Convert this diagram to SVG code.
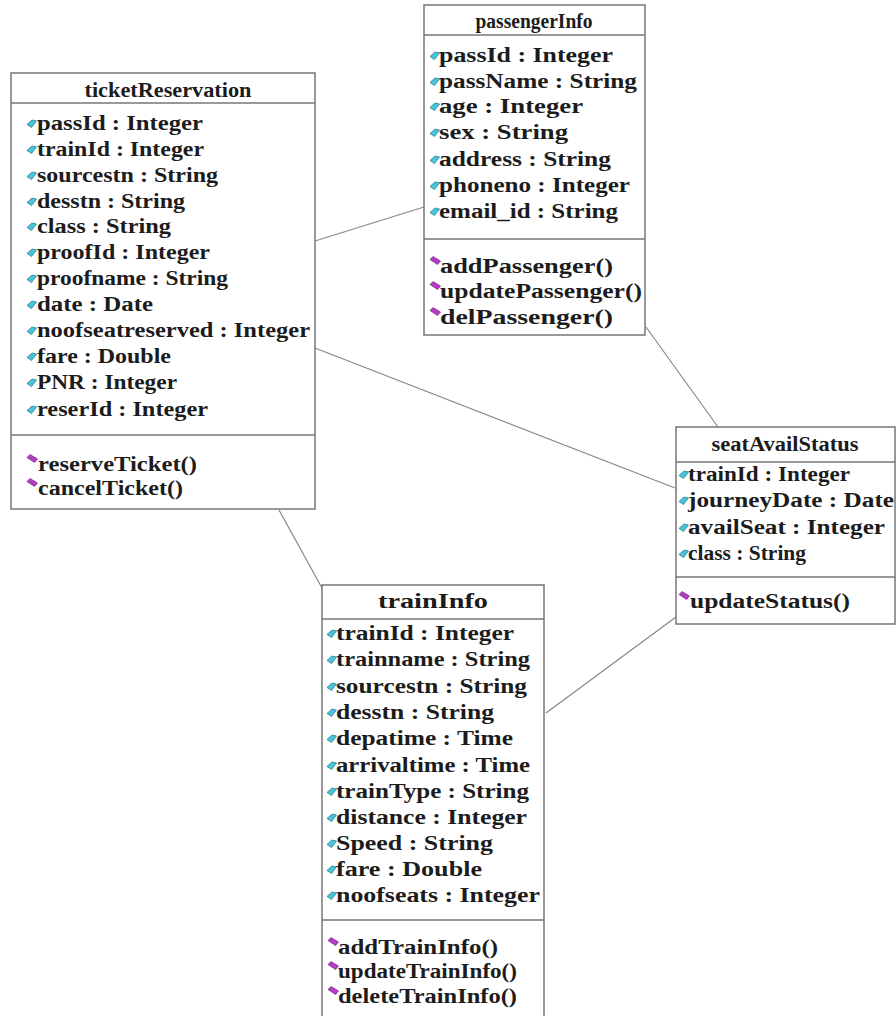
<svg xmlns="http://www.w3.org/2000/svg" xmlns:xlink="http://www.w3.org/1999/xlink" width="896" height="1016" viewBox="0 0 896 1016">
<style>
.box{fill:#fff;stroke:#777;stroke-width:1.5}
.sep{stroke:#777;stroke-width:1.5}
.t{font-family:"Liberation Serif","Times New Roman",serif;font-weight:bold;font-size:20px;fill:#1c1c1c}
.h{text-anchor:middle}
.conn line{stroke:#888;stroke-width:1.2}
</style>
<defs>
<g id="attr"><polygon points="0,4.5 5,0 9.5,1 4.5,7.5" fill="#46c6d8" stroke="#2b7f98" stroke-width="0.8"/></g>
<g id="meth"><polygon points="0,1.5 3,-1.5 10.5,3 7.5,6.5" fill="#b23cc2" stroke="#7a2388" stroke-width="0.7"/></g>
</defs>
<rect width="896" height="1016" fill="#fff"/>
<g class="conn" id="connectors">
<line x1="315" y1="241" x2="424" y2="207"/>
<line x1="315" y1="348" x2="675" y2="488"/>
<line x1="646" y1="327" x2="718" y2="427"/>
<line x1="279" y1="510" x2="322" y2="588"/>
<line x1="546" y1="713" x2="676" y2="617"/>
</g>
<g id="ticketReservation">
<rect class="box" x="11" y="73" width="304" height="436"/>
<line class="sep" x1="11" y1="103" x2="315" y2="103"/>
<line class="sep" x1="11" y1="435" x2="315" y2="435"/>
<text class="t h" x="168" y="97" textLength="167" lengthAdjust="spacingAndGlyphs">ticketReservation</text>
<use href="#attr" x="27" y="120"/><text class="t" x="37" y="130" textLength="166" lengthAdjust="spacingAndGlyphs">passId : Integer</text>
<use href="#attr" x="27" y="146"/><text class="t" x="37" y="156" textLength="167" lengthAdjust="spacingAndGlyphs">trainId : Integer</text>
<use href="#attr" x="27" y="172"/><text class="t" x="37" y="182" textLength="181" lengthAdjust="spacingAndGlyphs">sourcestn : String</text>
<use href="#attr" x="27" y="198"/><text class="t" x="37" y="208" textLength="148" lengthAdjust="spacingAndGlyphs">desstn : String</text>
<use href="#attr" x="27" y="223"/><text class="t" x="37" y="233" textLength="134" lengthAdjust="spacingAndGlyphs">class : String</text>
<use href="#attr" x="27" y="249"/><text class="t" x="37" y="259" textLength="173" lengthAdjust="spacingAndGlyphs">proofId : Integer</text>
<use href="#attr" x="27" y="275"/><text class="t" x="37" y="285" textLength="191" lengthAdjust="spacingAndGlyphs">proofname : String</text>
<use href="#attr" x="27" y="301"/><text class="t" x="37" y="311" textLength="116" lengthAdjust="spacingAndGlyphs">date : Date</text>
<use href="#attr" x="27" y="327"/><text class="t" x="37" y="337" textLength="273" lengthAdjust="spacingAndGlyphs">noofseatreserved : Integer</text>
<use href="#attr" x="27" y="353"/><text class="t" x="37" y="363" textLength="134" lengthAdjust="spacingAndGlyphs">fare : Double</text>
<use href="#attr" x="27" y="379"/><text class="t" x="37" y="389" textLength="140" lengthAdjust="spacingAndGlyphs">PNR : Integer</text>
<use href="#attr" x="27" y="406"/><text class="t" x="37" y="416" textLength="171" lengthAdjust="spacingAndGlyphs">reserId : Integer</text>
<use href="#meth" x="27" y="456"/><text class="t" x="38" y="471" textLength="159" lengthAdjust="spacingAndGlyphs">reserveTicket()</text>
<use href="#meth" x="27" y="480"/><text class="t" x="38" y="495" textLength="145" lengthAdjust="spacingAndGlyphs">cancelTicket()</text>
</g>
<g id="passengerInfo">
<rect class="box" x="424" y="5" width="221" height="330"/>
<line class="sep" x1="424" y1="35" x2="645" y2="35"/>
<line class="sep" x1="424" y1="239" x2="645" y2="239"/>
<text class="t h" x="534" y="28" textLength="117" lengthAdjust="spacingAndGlyphs">passengerInfo</text>
<use href="#attr" x="430" y="52"/><text class="t" x="439" y="62" textLength="174" lengthAdjust="spacingAndGlyphs">passId : Integer</text>
<use href="#attr" x="430" y="78"/><text class="t" x="439" y="88" textLength="198" lengthAdjust="spacingAndGlyphs">passName : String</text>
<use href="#attr" x="430" y="103"/><text class="t" x="439" y="113" textLength="144" lengthAdjust="spacingAndGlyphs">age : Integer</text>
<use href="#attr" x="430" y="129"/><text class="t" x="439" y="139" textLength="129" lengthAdjust="spacingAndGlyphs">sex : String</text>
<use href="#attr" x="430" y="156"/><text class="t" x="439" y="166" textLength="172" lengthAdjust="spacingAndGlyphs">address : String</text>
<use href="#attr" x="430" y="182"/><text class="t" x="439" y="192" textLength="191" lengthAdjust="spacingAndGlyphs">phoneno : Integer</text>
<use href="#attr" x="430" y="208"/><text class="t" x="439" y="218" textLength="179" lengthAdjust="spacingAndGlyphs">email_id : String</text>
<use href="#meth" x="430" y="258"/><text class="t" x="440" y="273" textLength="173" lengthAdjust="spacingAndGlyphs">addPassenger()</text>
<use href="#meth" x="430" y="283"/><text class="t" x="440" y="298" textLength="202" lengthAdjust="spacingAndGlyphs">updatePassenger()</text>
<use href="#meth" x="430" y="309"/><text class="t" x="440" y="324" textLength="173" lengthAdjust="spacingAndGlyphs">delPassenger()</text>
</g>
<g id="seatAvailStatus">
<rect class="box" x="676" y="427" width="219" height="197"/>
<line class="sep" x1="676" y1="462" x2="895" y2="462"/>
<line class="sep" x1="676" y1="577" x2="895" y2="577"/>
<text class="t h" x="785" y="451" textLength="147" lengthAdjust="spacingAndGlyphs">seatAvailStatus</text>
<use href="#attr" x="679" y="471"/><text class="t" x="688" y="481" textLength="162" lengthAdjust="spacingAndGlyphs">trainId : Integer</text>
<use href="#attr" x="679" y="497"/><text class="t" x="688" y="507" textLength="206" lengthAdjust="spacingAndGlyphs">journeyDate : Date</text>
<use href="#attr" x="679" y="524"/><text class="t" x="688" y="534" textLength="197" lengthAdjust="spacingAndGlyphs">availSeat : Integer</text>
<use href="#attr" x="679" y="550"/><text class="t" x="688" y="560" textLength="118" lengthAdjust="spacingAndGlyphs">class : String</text>
<use href="#meth" x="679" y="593"/><text class="t" x="690" y="608" textLength="160" lengthAdjust="spacingAndGlyphs">updateStatus()</text>
</g>
<g id="trainInfo">
<path class="box" d="M322,1020 V585 H544 V1020"/>
<line class="sep" x1="322" y1="619" x2="544" y2="619"/>
<line class="sep" x1="322" y1="920" x2="544" y2="920"/>
<text class="t h" x="433" y="608" textLength="110" lengthAdjust="spacingAndGlyphs">trainInfo</text>
<use href="#attr" x="327" y="630"/><text class="t" x="336" y="640" textLength="178" lengthAdjust="spacingAndGlyphs">trainId : Integer</text>
<use href="#attr" x="327" y="656"/><text class="t" x="336" y="666" textLength="194" lengthAdjust="spacingAndGlyphs">trainname : String</text>
<use href="#attr" x="327" y="683"/><text class="t" x="336" y="693" textLength="191" lengthAdjust="spacingAndGlyphs">sourcestn : String</text>
<use href="#attr" x="327" y="709"/><text class="t" x="336" y="719" textLength="158" lengthAdjust="spacingAndGlyphs">desstn : String</text>
<use href="#attr" x="327" y="735"/><text class="t" x="336" y="745" textLength="177" lengthAdjust="spacingAndGlyphs">depatime : Time</text>
<use href="#attr" x="327" y="762"/><text class="t" x="336" y="772" textLength="194" lengthAdjust="spacingAndGlyphs">arrivaltime : Time</text>
<use href="#attr" x="327" y="788"/><text class="t" x="336" y="798" textLength="193" lengthAdjust="spacingAndGlyphs">trainType : String</text>
<use href="#attr" x="327" y="814"/><text class="t" x="336" y="824" textLength="191" lengthAdjust="spacingAndGlyphs">distance : Integer</text>
<use href="#attr" x="327" y="840"/><text class="t" x="336" y="850" textLength="157" lengthAdjust="spacingAndGlyphs">Speed : String</text>
<use href="#attr" x="327" y="866"/><text class="t" x="336" y="876" textLength="146" lengthAdjust="spacingAndGlyphs">fare : Double</text>
<use href="#attr" x="327" y="892"/><text class="t" x="336" y="902" textLength="204" lengthAdjust="spacingAndGlyphs">noofseats : Integer</text>
<use href="#meth" x="328" y="939"/><text class="t" x="338" y="954" textLength="160" lengthAdjust="spacingAndGlyphs">addTrainInfo()</text>
<use href="#meth" x="328" y="963"/><text class="t" x="338" y="978" textLength="179" lengthAdjust="spacingAndGlyphs">updateTrainInfo()</text>
<use href="#meth" x="328" y="988"/><text class="t" x="338" y="1003" textLength="179" lengthAdjust="spacingAndGlyphs">deleteTrainInfo()</text>
</g>
</svg>
